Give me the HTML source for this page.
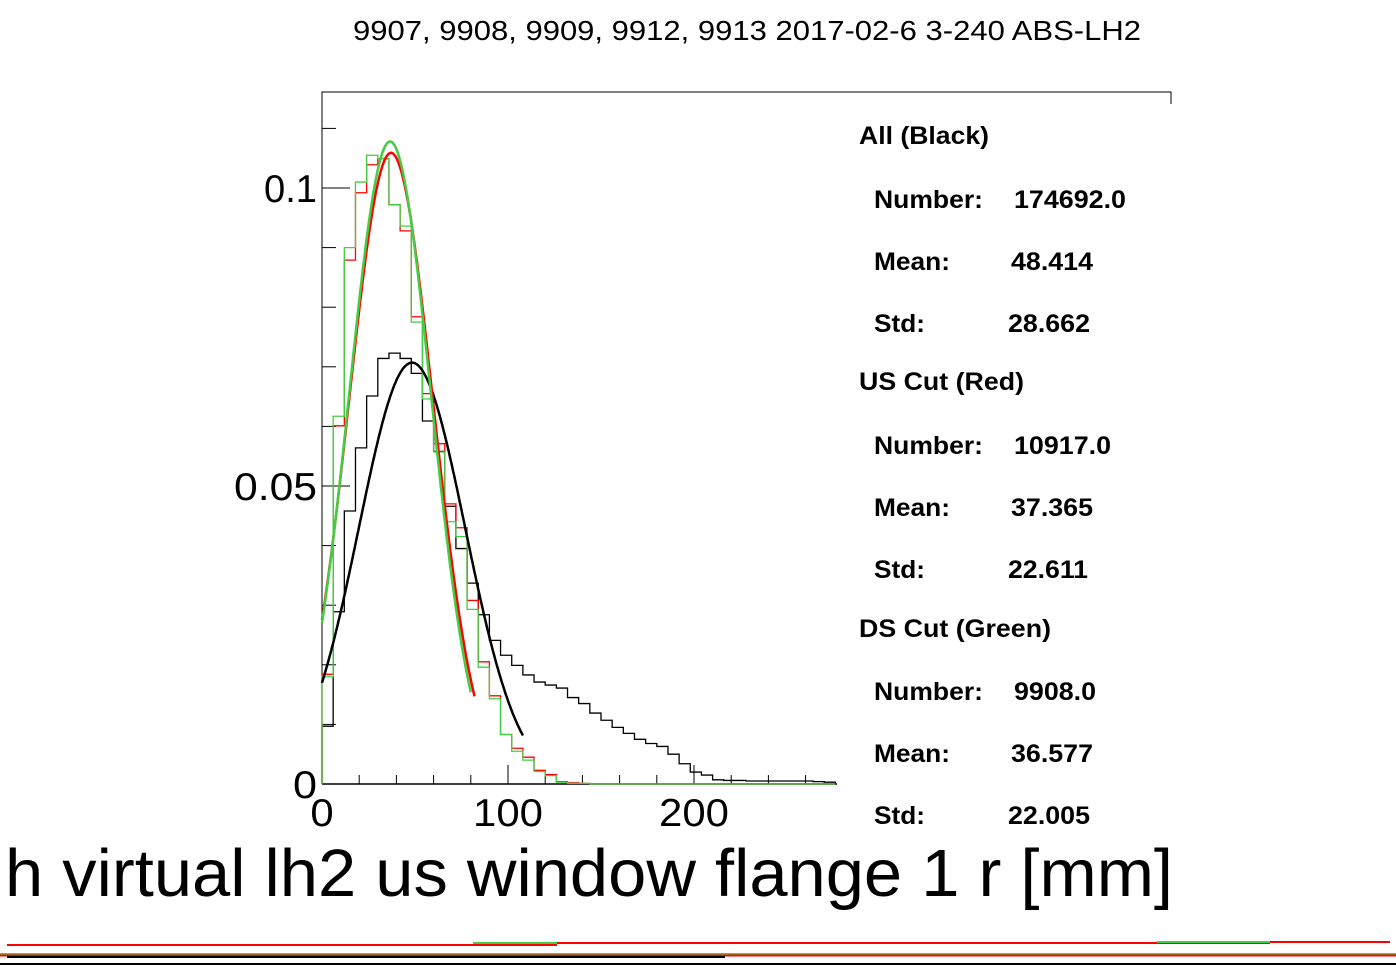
<!DOCTYPE html>
<html><head><meta charset="utf-8"><style>
body{margin:0;background:#fff;width:1396px;height:972px;overflow:hidden}
svg{display:block}
text{font-family:"Liberation Sans",sans-serif}
.st{font-weight:bold;font-size:25px}
</style></head><body>
<svg id="c" width="1396" height="972" xmlns="http://www.w3.org/2000/svg">
<text x="353" y="40" font-size="28" textLength="788" lengthAdjust="spacingAndGlyphs">9907, 9908, 9909, 9912, 9913 2017-02-6 3-240 ABS-LH2</text>
<g id="axes"></g>
<g id="marks"></g>
<text x="5" y="896" font-size="67" textLength="1168" lengthAdjust="spacingAndGlyphs">h virtual lh2 us window flange 1 r [mm]</text>
<g>
<text class="st" x="859" y="144" textLength="130" lengthAdjust="spacingAndGlyphs">All (Black)</text>
<text class="st" x="874" y="208" textLength="109" lengthAdjust="spacingAndGlyphs">Number:</text><text class="st" x="1014" y="208" textLength="112" lengthAdjust="spacingAndGlyphs">174692.0</text>
<text class="st" x="874" y="270" textLength="76" lengthAdjust="spacingAndGlyphs">Mean:</text><text class="st" x="1011" y="270" textLength="82" lengthAdjust="spacingAndGlyphs">48.414</text>
<text class="st" x="874" y="332" textLength="51" lengthAdjust="spacingAndGlyphs">Std:</text><text class="st" x="1008" y="332" textLength="82" lengthAdjust="spacingAndGlyphs">28.662</text>
<text class="st" x="859" y="390" textLength="165" lengthAdjust="spacingAndGlyphs">US Cut (Red)</text>
<text class="st" x="874" y="454" textLength="109" lengthAdjust="spacingAndGlyphs">Number:</text><text class="st" x="1014" y="454" textLength="97" lengthAdjust="spacingAndGlyphs">10917.0</text>
<text class="st" x="874" y="516" textLength="76" lengthAdjust="spacingAndGlyphs">Mean:</text><text class="st" x="1011" y="516" textLength="82" lengthAdjust="spacingAndGlyphs">37.365</text>
<text class="st" x="874" y="578" textLength="51" lengthAdjust="spacingAndGlyphs">Std:</text><text class="st" x="1008" y="578" textLength="80" lengthAdjust="spacingAndGlyphs">22.611</text>
<text class="st" x="859" y="637" textLength="192" lengthAdjust="spacingAndGlyphs">DS Cut (Green)</text>
<text class="st" x="874" y="700" textLength="109" lengthAdjust="spacingAndGlyphs">Number:</text><text class="st" x="1014" y="700" textLength="82" lengthAdjust="spacingAndGlyphs">9908.0</text>
<text class="st" x="874" y="762" textLength="76" lengthAdjust="spacingAndGlyphs">Mean:</text><text class="st" x="1011" y="762" textLength="82" lengthAdjust="spacingAndGlyphs">36.577</text>
<text class="st" x="874" y="824" textLength="51" lengthAdjust="spacingAndGlyphs">Std:</text><text class="st" x="1008" y="824" textLength="82" lengthAdjust="spacingAndGlyphs">22.005</text>
</g>
<g stroke-width="2">
<line x1="7" y1="945" x2="557" y2="945" stroke="#f00"/>
<line x1="473" y1="943" x2="557" y2="943" stroke="#4c4"/>
<line x1="557" y1="943" x2="1270" y2="943" stroke="#f00"/>
<line x1="1157" y1="942" x2="1270" y2="942" stroke="#4c4"/>
<line x1="1270" y1="942" x2="1390" y2="942" stroke="#f00"/>
<line x1="0" y1="954" x2="1396" y2="954" stroke="#4c4"/>
<line x1="0" y1="955.5" x2="1396" y2="955.5" stroke="#f00"/>
<line x1="7" y1="957" x2="725" y2="957" stroke="#000"/>
<line x1="0" y1="964" x2="1396" y2="964" stroke="#000"/>
</g>
</svg>
<script>
const binWidth = 6;
const blackVals = [0.0097,0.0289,0.0458,0.0564,0.0651,0.0714,0.0723,0.0714,0.0689,0.0609,0.0558,0.0466,0.0395,0.0337,0.0284,0.0241,0.0216,0.0199,0.0183,0.0171,0.0166,0.0161,0.0145,0.0135,0.0119,0.0107,0.0095,0.0085,0.0075,0.0068,0.0063,0.0050,0.0034,0.0020,0.0015,0.0007,0.0006,0.0006,0.0005,0.0005,0.0005,0.0005,0.0005,0.0005,0.0004,0.0003];
const redVals = [0.0184,0.0601,0.0879,0.0992,0.1039,0.1049,0.0972,0.0928,0.0784,0.0655,0.0571,0.0470,0.0430,0.0308,0.0205,0.0148,0.0083,0.0060,0.0045,0.0023,0.0016,0.0004,0.0002,0.0001,0,0,0,0,0,0,0,0,0,0,0,0,0,0,0,0,0,0,0,0,0,0];
const greenVals = [0.0180,0.0617,0.0900,0.1010,0.1055,0.1049,0.0972,0.0936,0.0775,0.0646,0.0557,0.0440,0.0415,0.0293,0.0196,0.0143,0.0083,0.0055,0.0040,0.0021,0.0014,0.0003,0.0001,0.0001,0,0,0,0,0,0,0,0,0,0,0,0,0,0,0,0,0,0,0,0,0,0];
const fitAmp = [0.0707,0.1059,0.1078];
const fitMean = [48.4,37.1,36.6];
const fitSigma = [28.66,22.6,22.0];
const fitEnd = [108,82,80];
const yTickLabels = ["0","0.05","0.1"];
const xTickLabels = ["0","100","200"];

const X0=322, XS=1.86, Y0=784, YS=5960;
const xs = v => X0 + v*XS;
const ys = v => Y0 - v*YS;
const NS="http://www.w3.org/2000/svg";
function mk(tag, attrs, parent){const e=document.createElementNS(NS,tag);for(const k in attrs)e.setAttribute(k,attrs[k]);parent.appendChild(e);return e;}
const axes=document.getElementById('axes'), marks=document.getElementById('marks');
const yLabelWidth={"0":24,"0.05":83,"0.1":53};

let f=mk('path',{d:`M${X0} ${Y0} V92 H1171 V104`,fill:'none',stroke:'#000','stroke-width':1},axes);


let xa=mk('line',{x1:X0,y1:Y0,x2:837,y2:Y0,stroke:'#000','stroke-width':1.5},axes);


for(let i=0;i<=11;i++){const v=i*0.01;const major=i%5===0;
  const t=mk('line',{x1:X0,y1:ys(v),x2:X0+(major?28:14),y2:ys(v),stroke:'#000'},axes);
  
  }
yTickLabels.forEach((s,i)=>{const w=yLabelWidth[s]||s.length*21;
  const t=mk('text',{x:317,y:ys(i*0.05)+14,'font-size':39,'text-anchor':'end',textLength:w,lengthAdjust:'spacingAndGlyphs'},axes);t.textContent=s;
  
  });
for(let i=0;i<=13;i++){const v=i*20;if(xs(v)>837)break;const major=v%100===0;
  const t=mk('line',{x1:xs(v),y1:Y0,x2:xs(v),y2:Y0-(major?19:9),stroke:'#000'},axes);
  
  }
xTickLabels.forEach((s,i)=>{const t=mk('text',{x:xs(i*100),y:826,'font-size':39,'text-anchor':'middle',textLength:s.length*23.3,lengthAdjust:'spacingAndGlyphs'},axes);t.textContent=s;
  
  });

function hist(vals,color,name){let d=`M${xs(0)} ${Y0}`;
  vals.forEach((v,i)=>{d+=` V${ys(v)} H${Math.min(xs((i+1)*binWidth),837)}`;});
  d+=` V${Y0}`;
  const p=mk('path',{d,fill:'none',stroke:color,'stroke-width':1.3},marks);
  
  }
hist(blackVals,'#000','hist-all-black');
hist(redVals,'#f00','hist-us-red');
hist(greenVals,'#4c4','hist-ds-green');

const fitColors=['#000','#f00','#4c4'], fitNames=['fit-all-black','fit-us-red','fit-ds-green'];
for(let k=0;k<3;k++){let d='';
  for(let x=0;x<=fitEnd[k];x+=0.5){const v=fitAmp[k]*Math.exp(-Math.pow(x-fitMean[k],2)/(2*fitSigma[k]*fitSigma[k]));d+=(x===0?'M':'L')+xs(x).toFixed(1)+' '+ys(v).toFixed(1)+' ';}
  const p=mk('path',{d,fill:'none',stroke:fitColors[k],'stroke-width':2.5},marks);
  
  }
</script>
</body></html>
